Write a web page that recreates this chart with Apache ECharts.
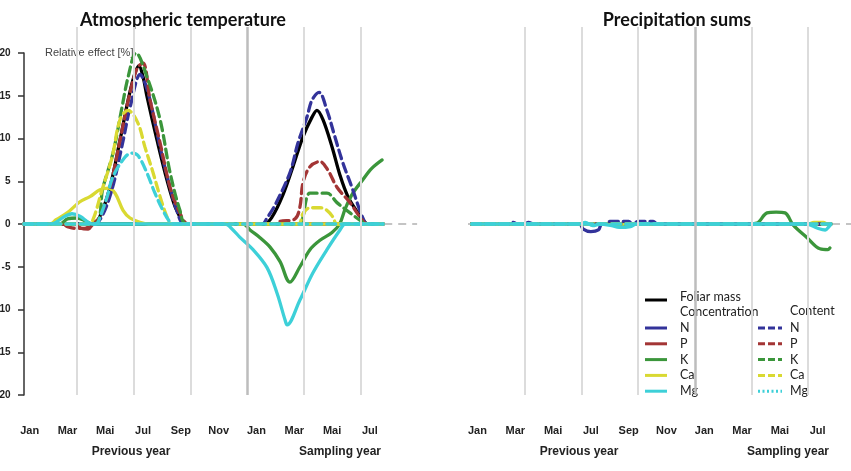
<!DOCTYPE html>
<html>
<head>
<meta charset="utf-8">
<script src="https://cdn.jsdelivr.net/npm/echarts@6/dist/echarts.min.js"></script>
<style>
  html, body { margin: 0; padding: 0; background: #fff; }
  #main { width: 851px; height: 471px; }
</style>
</head>
<body>
<div id="main"></div>
<script>
// month labels, x axis runs in months from Jan of the previous year
var monthNames = ['Jan', 'Feb', 'Mar', 'Apr', 'Mai', 'Jun', 'Jul', 'Aug', 'Sep', 'Okt', 'Nov', 'Dez',
  'Jan', 'Feb', 'Mar', 'Apr', 'Mai', 'Jun', 'Jul', 'Aug'];
var monthBreaks = [3, 6, 9, 12, 15, 18];
var yearBreak = 12;
var yTicks = [-20, -15, -10, -5, 0, 5, 10, 15, 20];
var elements = ['N', 'P', 'K', 'Ca', 'Mg'];
var colors = ['#33339a', '#a33535', '#3b963b', '#d9d932', '#3dd0d8'];
var baseline = [[0, 0], [21, 0]];

// Atmospheric temperature, [month, relative effect %]
var tempFoliar = [[0.2, 0], [3.85, 0], [4.2, 0.8], [4.75, 4.3], [5.28, 9.8], [5.71, 14.5], [6.05, 17.5], [6.28, 18.5],
  [6.5, 17.2], [6.71, 14.9], [7.24, 9.8], [7.77, 5.1], [8.2, 2], [8.6, 0.3], [8.8, 0], [12.9, 0], [13.32, 0.8],
  [13.9, 3.4], [14.43, 6.7], [14.96, 10.2], [15.44, 12.5], [15.7, 13.3], [16.02, 12.2], [16.5, 9.0], [16.92, 5.7],
  [17.34, 3.2], [17.87, 1.3], [18.24, 0.2], [18.4, 0], [19.2, 0]];
var tempN = [[0.2, 0], [19.2, 0]];
var tempP = [[0.2, 0], [2.9, 0], [3.2, -0.5], [3.6, -0.6], [3.9, 0], [19.2, 0]];
var tempK = [[0.2, 0], [2.1, 0], [2.5, 0.6], [3.0, 0.7], [3.5, 0.3], [3.8, 0], [11.8, 0], [12.16, -0.7],
  [12.69, -1.6], [13.22, -2.7], [13.75, -4.4], [14.27, -6.8], [14.8, -5.0], [15.33, -3.0], [15.86, -1.9],
  [16.5, -1.0], [16.9, 0], [17.2, 1.8], [17.6, 3.6], [18.1, 5.1], [18.6, 6.5], [19.15, 7.5]];
var tempCa = [[0.2, 0], [1.6, 0], [1.9, 0.5], [2.48, 1.3], [3.16, 2.6], [3.69, 3.2], [4.22, 4.0], [4.65, 4.2],
  [5.02, 3.6], [5.44, 1.6], [5.81, 0.7], [6.34, 0.2], [6.8, 0], [19.2, 0]];
var tempMg = [[0.2, 0], [1.6, 0], [2.37, 0.9], [2.74, 1.2], [3.16, 0.9], [3.59, 0.2], [3.8, 0], [10.84, 0],
  [11.26, -0.7], [11.6, -1.5], [12.32, -3.0], [13.06, -5.1], [13.59, -8.1], [14.01, -11.2], [14.12, -11.8],
  [14.8, -8.9], [15.49, -5.7], [16.23, -3.0], [16.92, -0.7], [17.2, 0], [19.2, 0]];
var tempNc = [[0.2, 0], [3.9, 0], [4.3, 0.8], [4.85, 4.0], [5.4, 9.3], [5.85, 14], [6.35, 17.5], [6.6, 16.5],
  [6.9, 14.2], [7.4, 9], [7.9, 4.5], [8.3, 1.5], [8.7, 0], [12.8, 0], [13.06, 0.7], [13.48, 2.2], [14.27, 6.0],
  [14.7, 9.5], [15.17, 12.5], [15.44, 14.5], [15.81, 15.4], [16.23, 13.3], [16.65, 10.2], [17.08, 7.1],
  [17.55, 4.3], [17.97, 1.6], [18.24, 0.2], [18.4, 0], [19.2, 0]];
var tempPc = [[0.2, 0], [2.2, 0], [2.5, -0.3], [2.9, -0.5], [3.4, -0.5], [3.8, 0], [4.2, 0.8], [4.75, 4.3],
  [5.28, 9.8], [5.75, 14.8], [6.2, 18.3], [6.5, 18.8], [6.87, 14.5], [7.4, 9.5], [7.93, 4.3], [8.45, 1.3],
  [8.9, 0], [13.5, 0], [13.75, 0.3], [14.54, 0.6], [14.8, 2.0], [14.96, 4.8], [15.33, 6.7], [15.86, 7.3],
  [16.28, 6.3], [16.76, 4.3], [17.45, 2.5], [18.08, 0.5], [18.35, 0], [19.2, 0]];
var tempKc = [[0.2, 0], [3.9, 0], [4.38, 4.3], [4.91, 8.3], [5.39, 13.7], [5.71, 17.2], [6.13, 20], [6.71, 17.2],
  [7.4, 12.2], [7.93, 6.0], [8.45, 1.6], [8.8, 0], [14.8, 0], [14.96, 0.8], [15.17, 3.2], [15.33, 3.6],
  [16.23, 3.6], [16.76, 2.5], [17.45, 1.3], [18.13, 0.2], [18.35, 0], [19.2, 0]];
var tempCac = [[0.2, 0], [3.6, 0], [3.85, 0.5], [4.33, 4.0], [4.86, 7.8], [5.28, 12.2], [5.7, 13.3], [6.23, 11.8],
  [6.6, 9.0], [7.03, 6.0], [7.4, 3.2], [7.77, 0.8], [8.0, 0], [14.7, 0], [14.96, 1.2], [15.33, 1.9],
  [15.86, 1.9], [16.23, 1.6], [16.55, 0.8], [16.76, 0], [19.2, 0]];
var tempMgc = [[0.2, 0], [4.0, 0], [4.22, 0.8], [4.6, 3.2], [4.9, 5.5], [5.54, 7.8], [5.9, 8.3], [6.23, 8.0],
  [6.7, 6.0], [7.13, 3.6], [7.55, 1.6], [7.93, 0.2], [8.1, 0], [19.2, 0]];

// Precipitation sums
var precFoliar = [[0.2, 0], [19.2, 0]];
var precN = [[0.2, 0], [5.9, 0], [6.1, -0.6], [6.5, -0.9], [6.9, -0.7], [7.1, 0], [19.2, 0]];
var precP = [[0.2, 0], [19.2, 0]];
var precK = [[0.2, 0], [14.9, 0], [15.29, 0.1], [15.82, 1.3], [16.3, 1.4], [16.77, 1.3], [17.2, -0.1],
  [17.94, -1.6], [18.62, -2.9], [19.05, -3.0], [19.15, -2.8]];
var precCa = [[0.2, 0], [18.0, 0], [18.3, 0.2], [18.8, 0.2], [19.0, 0], [19.2, 0]];
var precMg = [[0.2, 0], [5.9, 0], [6.2, 0.2], [6.6, -0.2], [7.0, 0], [7.6, -0.2], [8.0, -0.4], [8.6, -0.3],
  [8.9, 0], [17.9, 0], [18.5, -0.5], [18.9, -0.7], [19.1, -0.3], [19.2, 0]];
var precNc = [[0.2, 0], [2.3, 0], [2.4, 0.2], [2.6, 0], [3.0, 0], [3.2, 0.2], [3.5, 0], [7.3, 0], [7.5, 0.3],
  [8.5, 0.3], [8.7, 0], [9.0, 0.3], [9.8, 0.3], [10.0, 0], [19.2, 0]];
var precPc = [[0.2, 0], [19.2, 0]];
var precKc = [[0.2, 0], [19.2, 0]];
var precCac = [[0.2, 0], [19.2, 0]];
var precMgc = [[0.2, 0], [19.2, 0]];

var tempSolid = [tempN, tempP, tempK, tempCa, tempMg];
var tempDashed = [tempNc, tempPc, tempKc, tempCac, tempMgc];
var precSolid = [precN, precP, precK, precCa, precMg];
var precDashed = [precNc, precPc, precKc, precCac, precMgc];

var labelFont = 'Liberation Sans';
var legendFont = 'Lato';

function lineSeries(name, data, color, dashed, xIdx, yIdx) {
  return {
    name: name,
    type: 'line',
    xAxisIndex: xIdx,
    yAxisIndex: yIdx,
    data: data,
    smooth: 0.35,
    showSymbol: false,
    symbol: 'none',
    silent: true,
    animation: false,
    lineStyle: { color: color, width: 3.3, type: dashed ? [9, 5] : 'solid', cap: 'round' }
  };
}

// vertical month separators drawn as markLines on a hidden background series
function breakSeries(xIdx, yIdx) {
  return {
    type: 'line',
    xAxisIndex: xIdx,
    yAxisIndex: yIdx,
    data: [[0, 0]],
    symbol: 'none',
    lineStyle: { opacity: 0 },
    silent: true,
    animation: false,
    markLine: {
      symbol: 'none',
      silent: true,
      animation: false,
      label: { show: false },
      data: monthBreaks.map(function (m) {
        return {
          xAxis: m,
          lineStyle: m === yearBreak
            ? { color: '#bdbdbd', width: 2.5, type: 'solid' }
            : { color: '#dcdcdc', width: 2, type: 'solid' }
        };
      })
    }
  };
}

// draw order: baseline, foliar mass, solid N..Ca, dashed content, solid Mg on top
function panelSeries(foliar, solid, dashed, xIdx, yIdx) {
  var list = [];
  list.push({
    type: 'line', xAxisIndex: xIdx, yAxisIndex: yIdx, data: baseline, symbol: 'none', silent: true,
    animation: false, lineStyle: { color: '#c4c4c4', width: 2, type: [8, 6] }
  });
  list.push(lineSeries('Foliar mass', foliar, '#000', false, xIdx, yIdx));
  for (var i = 0; i < 4; i++) {
    list.push(lineSeries(elements[i], solid[i], colors[i], false, xIdx, yIdx));
  }
  dashed.forEach(function (d, j) {
    list.push(lineSeries(elements[j] + ' content', d, colors[j], true, xIdx, yIdx));
  });
  list.push(lineSeries('Mg', solid[4], colors[4], false, xIdx, yIdx));
  return list;
}

function monthAxis(gridIdx) {
  return {
    type: 'category',
    gridIndex: gridIdx,
    data: monthNames,
    position: 'bottom',
    boundaryGap: true,
    axisLine: { show: false },
    axisTick: { show: false },
    splitLine: { show: false },
    axisLabel: {
      margin: 30,
      fontFamily: labelFont,
      fontWeight: 'bold',
      fontSize: 11,
      color: '#222',
      interval: function (idx) { return idx % 2 === 0 && idx <= 18; }
    }
  };
}

function hiddenValueX(gridIdx, min, max) {
  return { type: 'value', gridIndex: gridIdx, min: min, max: max, show: false, splitLine: { show: false } };
}

var graphics = [];
function addText(x, y, text, font, fill, align) {
  graphics.push({
    type: 'text', x: x, y: y, silent: true,
    style: { text: text, font: font, fill: fill, align: align || 'center', verticalAlign: 'middle' }
  });
}
function addLine(x1, y1, x2, y2, color, dash) {
  graphics.push({
    type: 'line', silent: true,
    shape: { x1: x1, y1: y1, x2: x2, y2: y2 },
    style: { stroke: color, lineWidth: 3, lineDash: dash || null }
  });
}

addText(183, 20, 'Atmospheric temperature', 'bold 18px Lato', '#111');
addText(677, 20, 'Precipitation sums', 'bold 18px Lato', '#111');
addText(45, 53, 'Relative effect [%]', '11px ' + labelFont, '#444', 'left');
addText(131, 452, 'Previous year', 'bold 12px ' + labelFont, '#222');
addText(340, 452, 'Sampling year', 'bold 12px ' + labelFont, '#222');
addText(579, 452, 'Previous year', 'bold 12px ' + labelFont, '#222');
addText(788, 452, 'Sampling year', 'bold 12px ' + labelFont, '#222');

// legend
addLine(645, 300, 667, 300, '#000');
addText(680, 297, 'Foliar mass', '12.5px ' + legendFont, '#222', 'left');
addText(680, 312, 'Concentration', '12.5px ' + legendFont, '#222', 'left');
addText(790, 311, 'Content', '12.5px ' + legendFont, '#222', 'left');
elements.forEach(function (el, i) {
  var y = 328 + i * 15.8;
  addLine(645, y, 667, y, colors[i]);
  addText(680, y, el, '12.5px ' + legendFont, '#222', 'left');
  addLine(758, y, 782, y, colors[i], el === 'Mg' ? [2, 2.5] : [7, 3]);
  addText(790, y, el, '12.5px ' + legendFont, '#222', 'left');
});

var chart = echarts.init(document.getElementById('main'), null, { renderer: 'canvas' });
chart.setOption({
  backgroundColor: '#fff',
  animation: false,
  grid: [
    { left: 20.2, top: 27, width: 378, height: 368, outerBoundsMode: 'none' },
    { left: 24, top: 53, width: 393.1, height: 342, outerBoundsMode: 'none' },
    { left: 468, top: 27, width: 378, height: 368, outerBoundsMode: 'none' },
    { left: 468, top: 53, width: 381.8, height: 342, outerBoundsMode: 'none' }
  ],
  xAxis: [
    hiddenValueX(0, 0, 20),
    monthAxis(0),
    hiddenValueX(1, 0.2, 21),
    hiddenValueX(2, 0, 20),
    monthAxis(2),
    hiddenValueX(3, 0, 20.2)
  ],
  yAxis: [
    { type: 'value', gridIndex: 0, min: 0, max: 1, show: false, splitLine: { show: false } },
    {
      type: 'value', gridIndex: 1, min: yTicks[0], max: yTicks[yTicks.length - 1], interval: 5,
      axisLine: { show: true, lineStyle: { color: '#333', width: 1.5 } },
      axisTick: { show: true, length: 6, lineStyle: { color: '#333', width: 1.5 } },
      splitLine: { show: false },
      axisLabel: { margin: 13.5, fontFamily: labelFont, fontWeight: 'bold', fontSize: 10, color: '#222' }
    },
    { type: 'value', gridIndex: 2, min: 0, max: 1, show: false, splitLine: { show: false } },
    { type: 'value', gridIndex: 3, min: -20, max: 20, show: false, splitLine: { show: false } }
  ],
  graphic: graphics,
  series: [breakSeries(0, 0), breakSeries(3, 2)]
    .concat(panelSeries(tempFoliar, tempSolid, tempDashed, 2, 1))
    .concat(panelSeries(precFoliar, precSolid, precDashed, 5, 3))
});
</script>
</body>
</html>
